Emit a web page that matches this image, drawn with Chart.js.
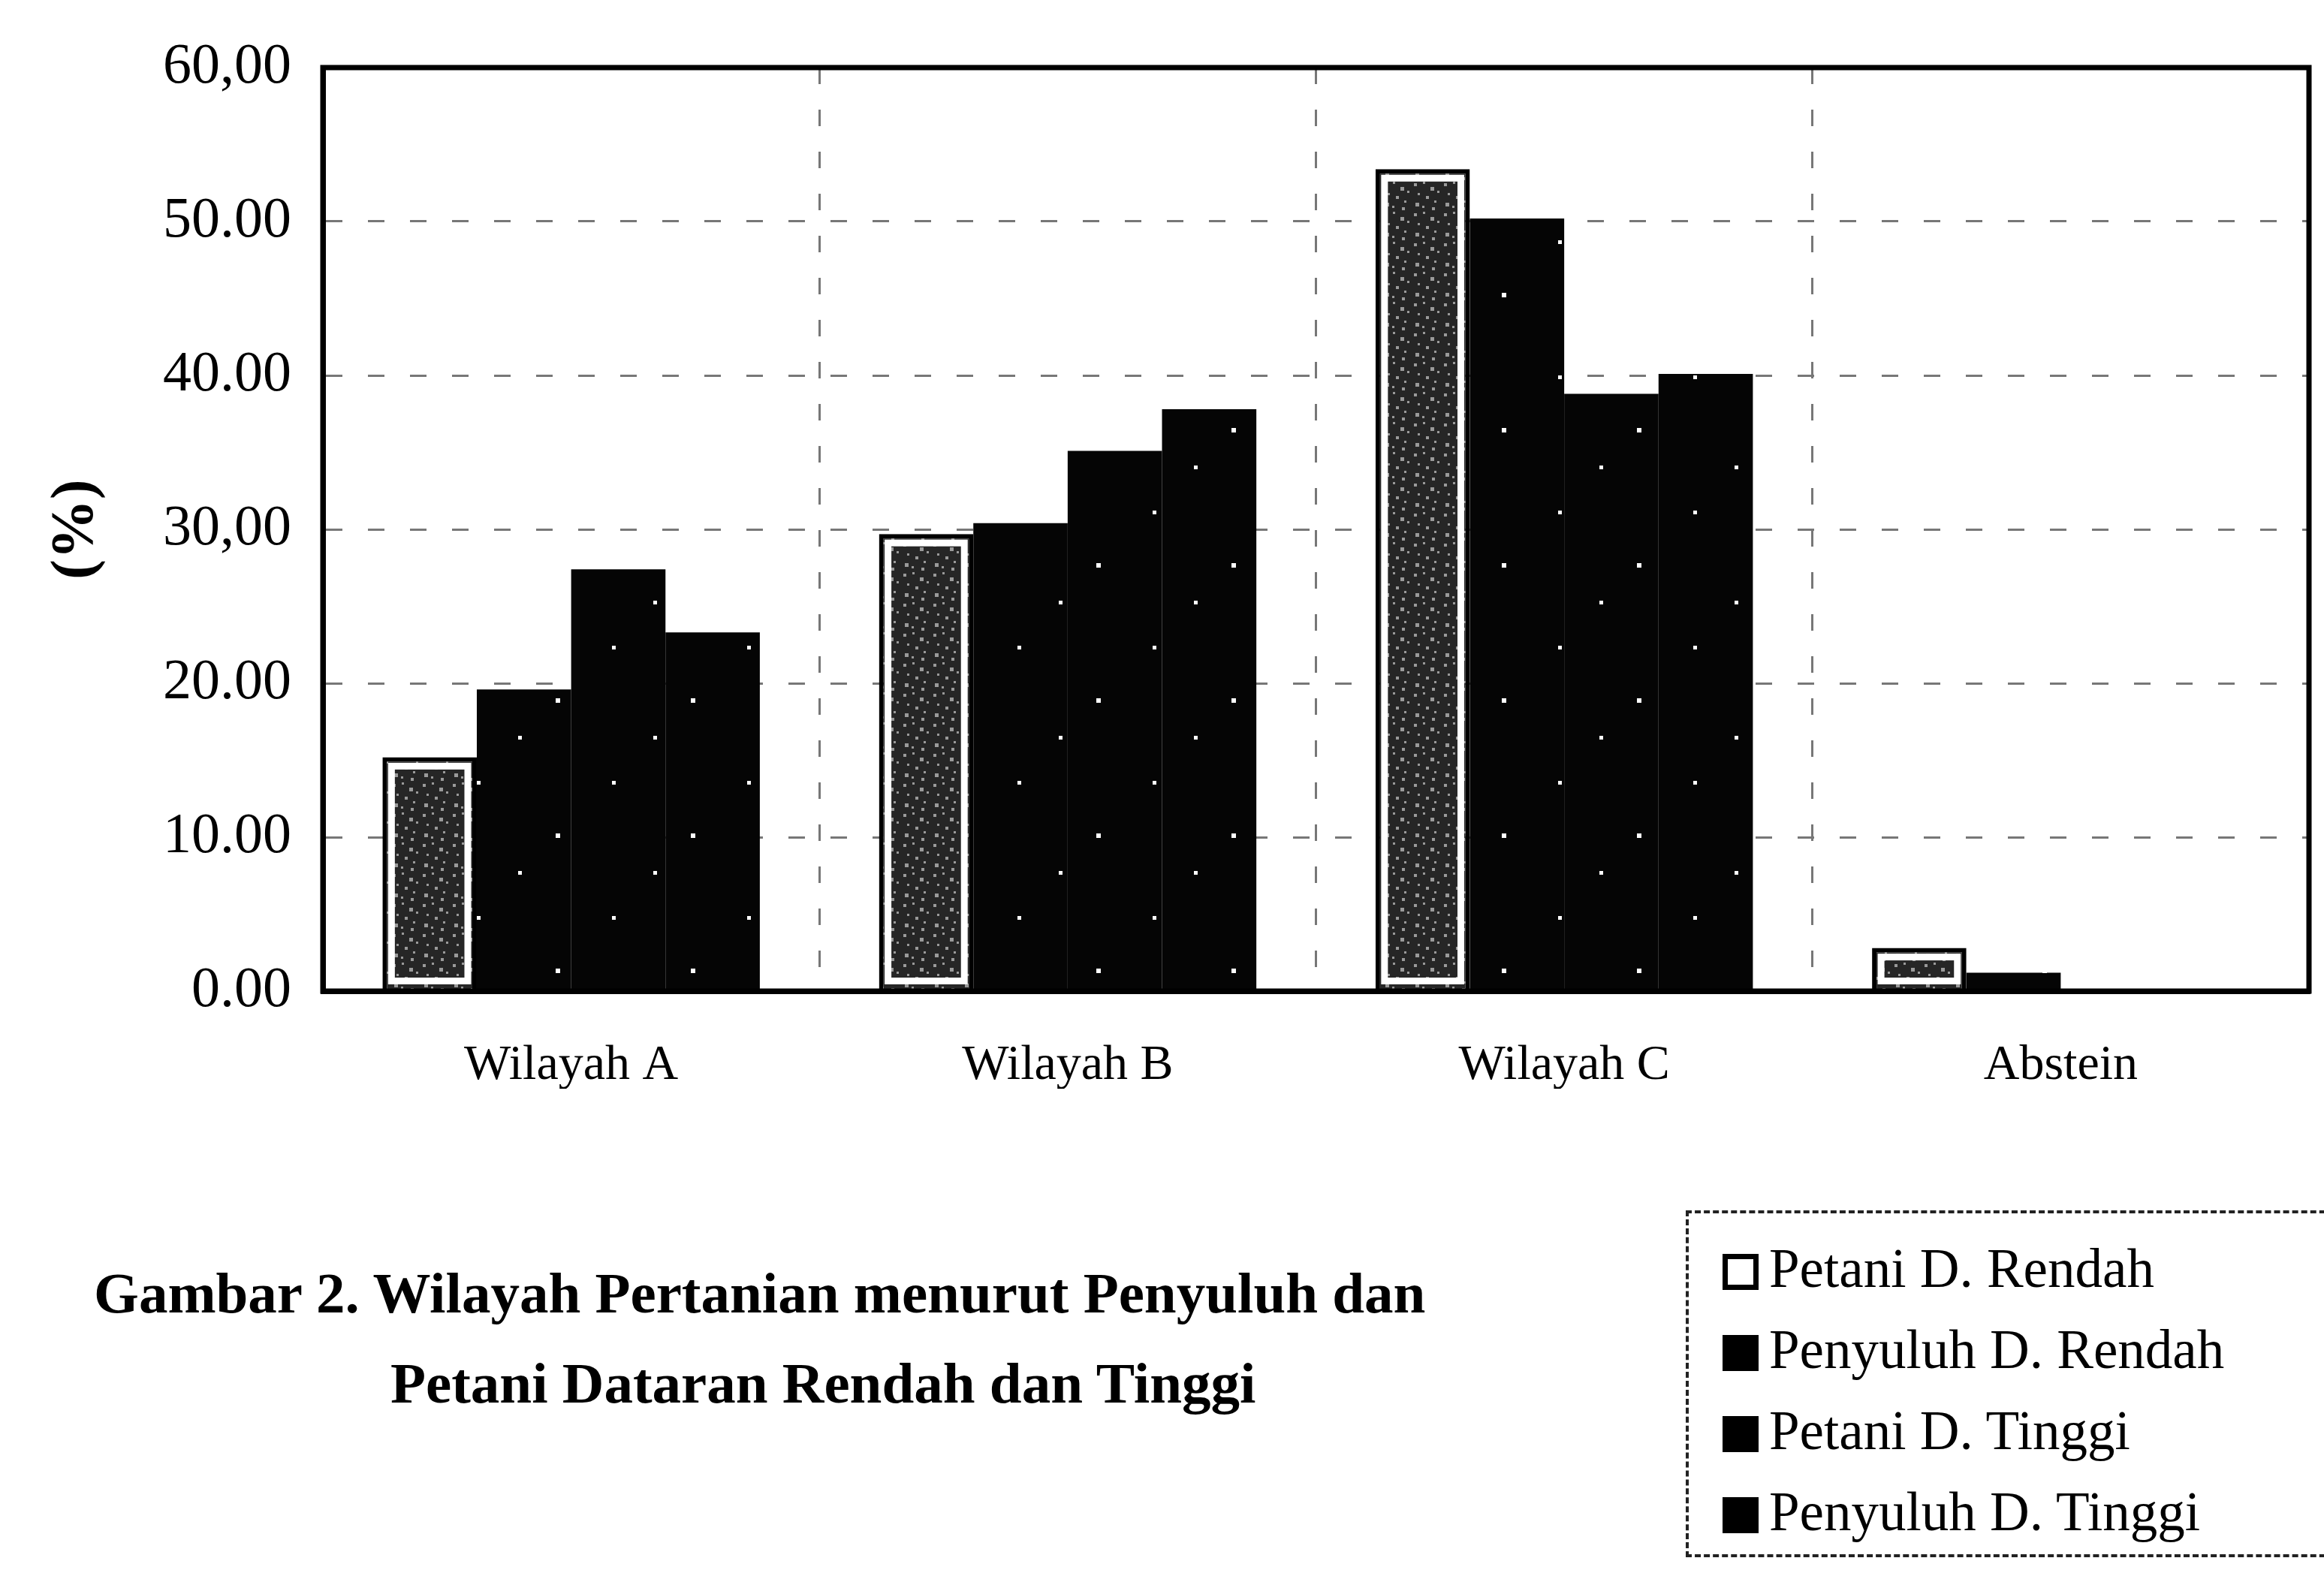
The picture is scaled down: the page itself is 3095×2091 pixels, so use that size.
<!DOCTYPE html>
<html>
<head>
<meta charset="utf-8">
<script src="https://cdn.jsdelivr.net/npm/chart.js@4/dist/chart.umd.min.js"></script>
<style>
  body { margin: 0; background: #fff; }
  #wrap { position: relative; width: 3095px; height: 2091px; overflow: hidden; }
  #grafic { position: absolute; left: 0; top: 0; }
  .caption { position: absolute; font-family: "Liberation Serif", serif; font-weight: bold; font-size: 77px; color: #000; white-space: nowrap; }
  #legend { position: absolute; left: 2245px; top: 1612px; width: 900px; height: 462px; border: 4px dashed #222; box-sizing: border-box; font-family: "Liberation Serif", serif; font-size: 73px; color: #000; }
  .item { position: absolute; left: 45px; white-space: nowrap; line-height: 72px; }
  .sq { display: inline-block; width: 48px; height: 48px; box-sizing: border-box; margin-right: 14px; vertical-align: -4px; background: #000; border: 7px solid #000; }
  .sq.white { background: #fff; }
</style>
</head>
<body>
<div id="wrap">
  <canvas id="grafic" width="3095" height="2091"></canvas>
  <div class="caption" style="left:125px; top:1678px;">Gambar 2. Wilayah Pertanian menurut Penyuluh dan</div>
  <div class="caption" style="left:520px; top:1798px;">Petani Dataran Rendah dan Tinggi</div>
  <div id="legend"></div>
</div>
<script>
// Dades
const categories = ['Wilayah A', 'Wilayah B', 'Wilayah C', 'Abstein'];
const seriesNames = ['Petani D. Rendah', 'Penyuluh D. Rendah', 'Petani D. Tinggi', 'Penyuluh D. Tinggi'];
const petaniRendah = [15.2, 29.7, 53.4, 2.8];
const penyuluhRendah = [19.6, 30.4, 50.2, 1.2];
const petaniTinggi = [27.4, 35.1, 38.8, 0];
const penyuluhTinggi = [23.3, 37.8, 40.1, 0];
const tickLabels = ['0.00', '10.00', '20.00', '30,00', '40.00', '50.00', '60,00'];

// Textura de les barres
function speckle(bg, dot, dots, size) {
  const c = document.createElement('canvas');
  c.width = size; c.height = size;
  const g = c.getContext('2d');
  g.fillStyle = bg;
  g.fillRect(0, 0, size, size);
  g.fillStyle = dot;
  dots.forEach(d => g.fillRect(d[0], d[1], d[2], d[2]));
  return g.createPattern(c, 'repeat');
}
const ctx = document.getElementById('grafic').getContext('2d');
const greyFill = speckle('#262626', '#9a9a9a',
  [[3,4,4],[15,2,3],[25,9,5],[8,17,3],[19,21,4],[30,27,3],[5,30,5],[14,34,3],[27,36,4],[34,14,3]], 40);
const blackFill = speckle('#050505', '#ffffff', [[20,30,6],[95,140,5],[60,210,6],[150,80,5]], 180);

// Llegenda
const legend = document.getElementById('legend');
seriesNames.forEach((n, i) => {
  const d = document.createElement('div');
  d.className = 'item';
  d.style.top = (38 + i * 108) + 'px';
  d.innerHTML = '<span class="sq' + (i == 0 ? ' white' : '') + '"></span>' + n;
  legend.appendChild(d);
});

// Marc i vora interior blanca
const frame = {
  id: 'frame',
  afterDatasetsDraw(chart) {
    const c = chart.ctx;
    const meta = chart.getDatasetMeta(0);
    c.save();
    c.strokeStyle = '#fff';
    c.lineWidth = 9;
    meta.data.forEach(el => {
      const h = el.base - el.y;
      if (h > 30) c.strokeRect(el.x - el.width / 2 + 12, el.y + 12, el.width - 24, h - 24);
    });
    const a = chart.chartArea;
    c.strokeStyle = '#000';
    c.lineWidth = 7;
    c.strokeRect(a.left, a.top, a.right - a.left, a.bottom - a.top);
    c.restore();
  }
};

new Chart(ctx, {
  type: 'bar',
  data: {
    labels: categories,
    datasets: [
      { label: seriesNames[0], data: petaniRendah, backgroundColor: greyFill, borderColor: '#000', borderWidth: 6 },
      { label: seriesNames[1], data: penyuluhRendah, backgroundColor: blackFill, borderColor: '#000', borderWidth: 0 },
      { label: seriesNames[2], data: petaniTinggi, backgroundColor: blackFill, borderColor: '#000', borderWidth: 0 },
      { label: seriesNames[3], data: penyuluhTinggi, backgroundColor: blackFill, borderColor: '#000', borderWidth: 0 }
    ]
  },
  options: {
    responsive: false,
    animation: false,
    devicePixelRatio: 1,
    layout: { padding: { top: 90, right: 20, bottom: 641, left: 50 } },
    datasets: { bar: { categoryPercentage: 0.76, barPercentage: 1.0 } },
    plugins: { legend: { display: false }, tooltip: { enabled: false } },
    scales: {
      x: {
        afterFit: s => { s.height = 130; },
        grid: { offset: true, color: '#777', lineWidth: 3, drawTicks: false },
        border: { display: true, color: '#000', width: 7, dash: [22, 34] },
        ticks: { padding: 60, color: '#000', font: { family: 'Liberation Serif', size: 66 } }
      },
      y: {
        min: 0, max: 60,
        afterFit: s => { s.width = 380; },
        grid: { color: '#777', lineWidth: 3, drawTicks: false },
        border: { display: true, color: '#000', width: 7, dash: [22, 34] },
        ticks: {
          stepSize: 10, padding: 42, color: '#000',
          font: { family: 'Liberation Serif', size: 76 },
          callback: (v, i) => tickLabels[i]
        },
        title: { display: true, text: '(%)', color: '#000', padding: { bottom: 30 },
                 font: { family: 'Liberation Serif', size: 80, weight: 'bold' } }
      }
    }
  },
  plugins: [frame]
});
</script>
</body>
</html>
